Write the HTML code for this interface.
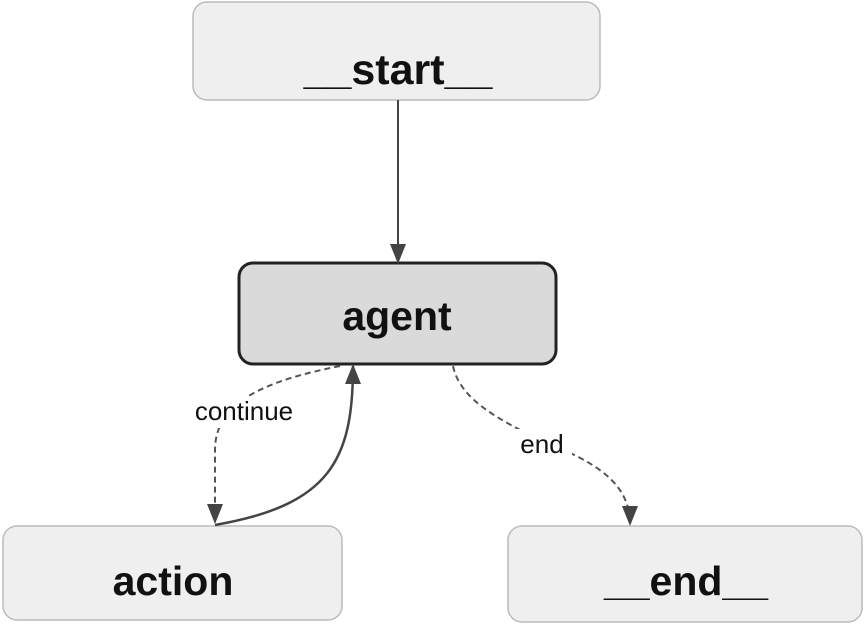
<!DOCTYPE html>
<html><head><style>
body{margin:0;width:868px;height:631px;background:#fff;overflow:hidden;font-family:"Liberation Sans","DejaVu Sans",sans-serif}
</style></head><body>
<svg width="868" height="631" viewBox="0 0 868 631" xmlns="http://www.w3.org/2000/svg">
<defs>
<marker id="b" markerWidth="20" markerHeight="20" refX="18" refY="10" orient="auto" markerUnits="userSpaceOnUse" viewBox="0 0 20 20">
<path d="M0,2 L20,10 L0,18 z" fill="#444"/></marker>
</defs>
<rect x="193" y="2" width="407" height="98" rx="14" fill="#efefef" stroke="#bbb" stroke-width="1.5"/>
<rect x="239" y="263" width="317" height="101" rx="14" fill="#dadada" stroke="#222" stroke-width="3"/>
<rect x="3" y="526" width="339" height="94" rx="14" fill="#efefef" stroke="#bbb" stroke-width="1.5"/>
<rect x="508" y="526" width="354" height="96" rx="14" fill="#efefef" stroke="#bbb" stroke-width="1.5"/>
<text x="398" y="84" font-size="43" font-weight="bold" text-anchor="middle" fill="#111">__start__</text>
<text x="397" y="330" font-size="41" font-weight="bold" text-anchor="middle" fill="#111">agent</text>
<text x="173" y="595" font-size="41" font-weight="bold" text-anchor="middle" fill="#111">action</text>
<text x="686" y="595" font-size="41" font-weight="bold" text-anchor="middle" fill="#111">__end__</text>
<line x1="398" y1="100" x2="398" y2="262" stroke="#444" stroke-width="2" marker-end="url(#b)"/>
<path d="M340,366 C270,380 215,400 215,450 L215,522" fill="none" stroke="#555" stroke-width="2" stroke-dasharray="6,4" marker-end="url(#b)"/>
<path d="M215,525 C330,505 353,460 353,366" fill="none" stroke="#444" stroke-width="2.5" marker-end="url(#b)"/>
<path d="M453,366 C460,400 500,420 540,440 C590,460 630,480 630,524" fill="none" stroke="#555" stroke-width="2" stroke-dasharray="6,4" marker-end="url(#b)"/>
<rect x="176" y="396" width="136" height="32" fill="#fff"/>
<text x="244" y="420" font-size="26" text-anchor="middle" fill="#111">continue</text>
<rect x="512" y="429" width="60" height="32" fill="#fff"/>
<text x="542" y="453" font-size="26" text-anchor="middle" fill="#111">end</text>
</svg>
</body></html>
